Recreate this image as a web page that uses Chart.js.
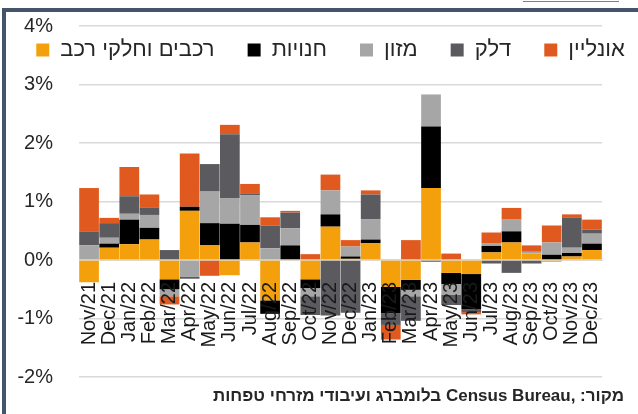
<!DOCTYPE html>
<html>
<head>
<meta charset="utf-8">
<script src="https://cdn.jsdelivr.net/npm/chart.js@4.4.1/dist/chart.umd.min.js"></script>
<style>
  html, body { margin: 0; padding: 0; background: #ffffff; }
  body { width: 638px; height: 414px; position: relative; overflow: hidden; }
  #frame { position: absolute; left: 2px; top: 8px; width: 660px; height: 440px;
           border: 4px solid #44546a; box-sizing: border-box; }
  #topline { position: absolute; left: 523px; top: 1px; width: 96px; height: 1px; background: #7f7f7f; }
  #chart { position: absolute; left: 0; top: 0; }
  #source { position: absolute; right: 14px; top: 386px; direction: rtl; text-align: right;
            font: bold 17px "Liberation Sans", Arial, sans-serif; color: #262626; white-space: nowrap; }
</style>
</head>
<body>
<div id="topline"></div>
<div id="frame"></div>
<canvas id="chart" width="638" height="414"></canvas>
<div id="source" dir="rtl">מקור: ,Census Bureau בלומברג ועיבודי מזרחי טפחות</div>
<script>
// Categories (months)
const months = ["Nov/21","Dec/21","Jan/22","Feb/22","Mar/22","Apr/22","May/22","Jun/22","Jul/22","Aug/22","Sep/22","Oct/22","Nov/22","Dec/22","Jan/23","Feb/23","Mar/23","Apr/23","May/23","Jun/23","Jul/23","Aug/23","Sep/23","Oct/23","Nov/23","Dec/23"];

// Series names (legend)
const seriesNames = ["רכבים וחלקי רכב", "חנויות", "מזון", "דלק", "אונליין"];

// Contributions, percentage points
const cars   = [-0.38,0.21,0.27,0.35,-0.33,0.84,0.25,-0.26,0.30,-0.69,0.00,-0.33,0.57,0.02,0.29,-0.46,-0.34,1.23,-0.22,-0.24,0.13,0.30,0.11,-0.03,0.06,0.17];
const stores = [0.00,0.07,0.42,0.20,-0.17,0.07,0.38,0.62,0.30,-0.23,0.25,-0.15,0.21,0.04,0.06,-0.45,-0.17,1.05,-0.19,-0.60,0.11,0.19,0.00,0.09,0.06,0.11];
const food   = [0.25,0.10,0.10,0.22,-0.12,-0.29,0.54,0.43,0.51,0.20,0.29,-0.14,0.41,0.17,0.35,0.00,-0.11,0.55,-0.18,0.00,0.04,0.20,0.03,0.21,0.09,0.17];
const fuel   = [0.24,0.25,0.30,0.13,0.17,-0.03,0.47,1.10,0.03,0.39,0.27,-0.32,-0.95,-0.90,0.42,-0.20,-0.42,-0.03,-0.18,-0.05,-0.06,-0.22,-0.06,0.00,0.51,0.07];
const online = [0.74,0.09,0.50,0.22,-0.14,0.91,-0.27,0.16,0.16,0.14,0.03,0.10,0.27,0.11,0.07,-0.25,0.34,0.00,0.11,-0.04,0.19,0.20,0.11,0.29,0.06,0.17];

// Y-axis ticks
const yTicks = [-2,-1,0,1,2,3,4];

const colors = ["#f4a00c", "#000000", "#a6a6a6", "#5b5b5f", "#e05a1f"];
const seriesData = [cars, stores, food, fuel, online];

const FONT = '"Liberation Sans", Arial, sans-serif';
const LEGEND_TOP = 6;

const legendMover = {
  id: 'legendMover',
  beforeLayout(chart) {
    const lg = chart.legend;
    if (lg && !lg._patched) {
      const fit = lg.fit.bind(lg);
      lg.fit = function () { this.maxWidth = 1000; fit(); this._h = this.height; this.height = 0; };
      lg._patched = true;
    }
  },
  afterLayout(chart) {
    const lg = chart.legend;
    if (!lg) return;
    lg.top = LEGEND_TOP;
    lg.height = lg._h;
    lg.bottom = LEGEND_TOP + lg._h;
    lg.left = 0;
    lg.right = 661;
    lg.width = 661;
  }
};

new Chart(document.getElementById('chart'), {
  type: 'bar',
  data: {
    labels: months,
    datasets: seriesData.map((d, i) => ({
      label: seriesNames[i],
      data: d,
      backgroundColor: colors[i],
      borderWidth: 0,
      barPercentage: 1,
      categoryPercentage: 0.98
    }))
  },
  options: {
    responsive: false,
    animation: false,
    events: [],
    layout: { padding: { left: 12, top: 26, right: 2, bottom: 37 } },
    plugins: {
      tooltip: { enabled: false },
      legend: {
        position: 'top',
        align: 'center',
        labels: {
          font: { family: FONT, size: 22 },
          color: '#262626',
          boxWidth: 13,
          boxHeight: 13,
          padding: 33
        }
      }
    },
    scales: {
      x: {
        stacked: true,
        position: { y: 0 },
        grid: { display: false, drawTicks: false },
        border: { display: true, color: '#e8d8c0', width: 1, z: -1 },
        ticks: {
          z: 1,
          autoSkip: false,
          minRotation: 90,
          maxRotation: 90,
          padding: 22,
          color: '#1a1a1a',
          font: { family: FONT, size: 20 }
        }
      },
      y: {
        stacked: true,
        min: yTicks[0],
        max: yTicks[yTicks.length - 1],
        afterBuildTicks: (scale) => { scale.ticks = yTicks.map(v => ({ value: v })); },
        afterFit: (scale) => { scale.width = 67; scale.paddingTop = 0; scale.paddingBottom = 0; },
        grid: { color: '#d9d9d9', lineWidth: 1.5, drawTicks: false },
        border: { display: false },
        ticks: {
          padding: 26,
          color: '#262626',
          font: { family: FONT, size: 20 },
          callback: (v) => v + '%'
        }
      }
    }
  },
  plugins: [legendMover]
});
</script>
</body>
</html>
